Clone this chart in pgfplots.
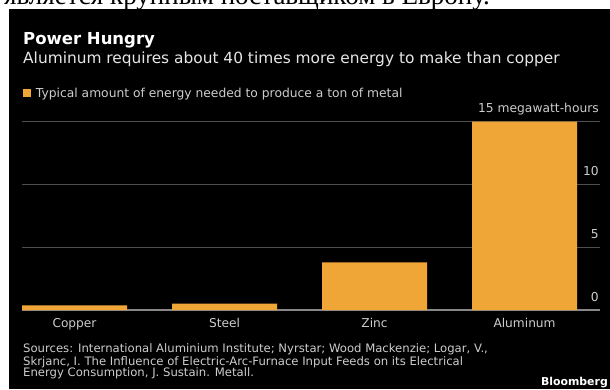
\documentclass[border=0pt]{standalone}
\usepackage{fontspec}
\setmainfont{DejaVu Sans}
\newfontfamily\serifru{Liberation Serif}
\usepackage{pgfplots}
\pgfplotsset{compat=1.18}
\definecolor{barorange}{RGB}{240,165,55}
\definecolor{gridgray}{RGB}{78,78,78}
\definecolor{basegray}{RGB}{135,135,135}
\definecolor{labelgray}{RGB}{205,205,205}
\definecolor{subgray}{RGB}{230,230,230}
\pgfplotstableread{
x y
0 0.37
1 0.50
2 3.80
3 15.0
}\energy
\begin{document}
\begin{tikzpicture}[x=1pt,y=1pt]
\useasboundingbox (0,0) rectangle (610,389);
\fill[white] (0,0) rectangle (610,389);
\begin{scope}
\clip (0,0) rectangle (610,389);
\node[anchor=base east, inner sep=0pt, font=\serifru\fontsize{27}{30}\selectfont] at (490,384) {является крупным поставщиком в Европу.};
\end{scope}
\fill[black] (9,0) rectangle (610,380);
\node[anchor=base west, inner sep=0pt, text=white, font=\bfseries\fontsize{16.5}{19}\selectfont] at (23,344) {Power Hungry};
\node[anchor=base west, inner sep=0pt, text=subgray, font=\fontsize{15.4}{18}\selectfont] at (23,325.7) {Aluminum requires about 40 times more energy to make than copper};
\begin{axis}[
  at={(22pt,79pt)}, anchor=south west, scale only axis,
  width=578pt, height=188.3pt,
  xmin=-0.35, xmax=3.503, ymin=0, ymax=15,
  ybar, bar width=105pt,
  axis line style={draw=none}, tick style={draw=none}, major tick length=0pt,
  xtick={0,1,2,3}, xticklabels={Copper,Steel,Zinc,Aluminum},
  ytick={5,10,15}, yticklabels={5,10,15 megawatt-hours},
  yticklabel pos=right,
  ymajorgrids, grid style={color=gridgray, line width=1pt},
  extra y ticks={0}, extra y tick labels={0},
  extra y tick style={grid style={color=basegray, line width=1.3pt}},
  /pgf/number format/assume math mode=true,
  yticklabel style={anchor=base east, inner xsep=1pt, yshift=9pt, text=labelgray, font=\fontsize{12.3}{14}\selectfont},
  xticklabel style={anchor=base, yshift=-17pt, text=labelgray, font=\fontsize{12.2}{14}\selectfont},
  legend style={draw=none, fill=none, text=labelgray, font=\fontsize{12.3}{14}\selectfont,
    at={(axis description cs:0.0017,1.152)}, anchor=west, inner sep=0pt, outer sep=0pt},
  legend cell align=left,
  clip=false,
]
\addplot[fill=barorange, draw=none,
  legend image code/.code={\fill[barorange] (0pt,-4pt) rectangle (8pt,4pt); \path (11pt,0pt);}]
  table[x=x,y=y] {\energy};
\addlegendentry{Typical amount of energy needed to produce a ton of metal}
\end{axis}
\node[anchor=base west, inner sep=0pt, text=labelgray, font=\fontsize{11.65}{12}\selectfont] at (23,36.3) {Sources: International Aluminium Institute; Nyrstar; Wood Mackenzie; Logar, V.,};
\node[anchor=base west, inner sep=0pt, text=labelgray, font=\fontsize{11.65}{12}\selectfont] at (23,24) {Skrjanc, I. The Influence of Electric-Arc-Furnace Input Feeds on its Electrical};
\node[anchor=base west, inner sep=0pt, text=labelgray, font=\fontsize{11.65}{12}\selectfont] at (23,12.3) {Energy Consumption, J. Sustain. Metall.};
\node[anchor=base east, inner sep=0pt, text=white, font=\bfseries\fontsize{10.9}{12}\selectfont] at (608,4) {Bloomberg};
\end{tikzpicture}
\end{document}
